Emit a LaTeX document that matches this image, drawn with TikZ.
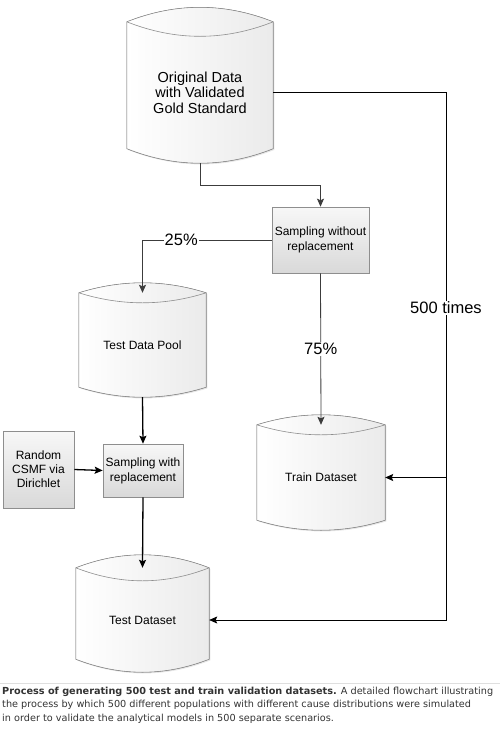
\documentclass[tikz,border=0pt]{standalone}
\usepackage{fontspec}
\setmainfont{Liberation Sans}
\newfontfamily\capfont{DejaVu Sans}
\usetikzlibrary{arrows.meta, shadows, calc}
\pgfdeclarelayer{bg}
\pgfsetlayers{bg,main}
\definecolor{edgegray}{HTML}{8E8E8E}
\definecolor{linegray}{HTML}{3C3C3C}
\definecolor{captext}{HTML}{333333}

% outline of a drum drawn round node #1, bulge #2
\newcommand{\drumoutline}[2]{%
  \filldraw [drumline] (#1.north west)
    .. controls ($(#1.north west)!1/3!(#1.north east)+(0,{-4/3*#2})$)
            and ($(#1.north west)!2/3!(#1.north east)+(0,{-4/3*#2})$) .. (#1.north east)
    -- ($(#1.south east)+(0,-#2)$)
    .. controls ($(#1.south east)!1/3!(#1.south west)+(0,{#2/3})$)
            and ($(#1.south east)!2/3!(#1.south west)+(0,{#2/3})$) .. ($(#1.south west)+(0,-#2)$)
    -- cycle;
  \draw [draw=edgegray, line width=0.6pt] (#1.north west)
    .. controls ($(#1.north west)!1/3!(#1.north east)+(0,{4/3*#2})$)
            and ($(#1.north west)!2/3!(#1.north east)+(0,{4/3*#2})$) .. (#1.north east);
}

\begin{document}
\begin{tikzpicture}[
    x=1pt, y=-1pt,
    drum/.style     = {inner sep=0pt, align=center, font=\fontsize{12}{15}\selectfont},
    drumline/.style = {draw=edgegray, line width=0.6pt, left color=white, right color=gray!16,
                       drop shadow={shadow xshift=1.2pt, shadow yshift=-1.2pt, opacity=0.2}},
    box/.style      = {draw=edgegray, line width=0.6pt, top color=gray!6, bottom color=gray!30,
                       drop shadow={shadow xshift=1.2pt, shadow yshift=-1.2pt, opacity=0.2},
                       inner sep=0pt, align=center, font=\fontsize{12}{15}\selectfont},
    flow/.style     = {draw=linegray, line width=0.8pt, -{Stealth[length=8pt, width=7pt, inset=1.5pt]}},
    heavy/.style    = {draw=black, line width=1.3pt, -{Stealth[length=8pt, width=7pt, inset=1.5pt]}},
    pct/.style      = {fill=white, inner sep=1pt, font=\fontsize{16.5}{18}\selectfont}
]
\useasboundingbox (0,0) rectangle (500,729);

% Drums
\node (orig)  [drum, minimum width=146pt, minimum height=141pt, font=\fontsize{14.5}{15.5}\selectfont]
      at (200, 92.5) {Original Data\\with Validated\\Gold Standard};
\node (pool)  [drum, minimum width=127pt, minimum height=104pt] at (142.5, 345) {Test Data Pool};
\node (train) [drum, minimum width=128pt, minimum height=105pt] at (321, 477.5) {Train Dataset};
\node (test)  [drum, minimum width=133pt, minimum height=104pt] at (142.5, 620) {Test Dataset};

\begin{pgfonlayer}{bg}
\foreach \n/\b in {orig/14.5, pool/10, train/10, test/13}
  {\drumoutline{\n}{\b}}
\end{pgfonlayer}

% Boxes
\node (samp1) [box, minimum width=97pt, minimum height=66pt] at (320.5, 240) {Sampling without\\replacement};
\node (samp2) [box, minimum width=80pt, minimum height=53pt] at (143, 470.5) {Sampling with\\replacement};
\node (csmf)  [box, minimum width=71pt, minimum height=77pt, font=\fontsize{12}{14}\selectfont]
      at (38.5, 469.5) {Random\\CSMF via\\Dirichlet};

% Arrows
\draw [flow] (orig.south) -- ++(0,22) -| (samp1.north);
\draw [flow] (samp1.west) -| node[pct, pos=0.35] {25\%} (pool.north);
\draw [flow] (samp1.south) -- node[pct] {75\%} (train.north);
\draw [heavy] (pool.south) -- (samp2.north);
\draw [heavy] (csmf.east) -- (samp2.west);
\draw [heavy] (samp2.south) -- (test.north);

% 500 times loop
\coordinate (rail) at (446, 0);
\draw [flow, draw=black] (orig.east) -| node[pct, pos=0.704] {500 times} (rail |- test.east) -- (test.east);
\draw [flow, draw=black] (rail |- train.east) -- (train.east);

% Caption
\draw [gray!25, line width=0.6pt] (0,683) -- (500,683);
\node (caption) [anchor=north west, align=left, inner sep=0pt, text=captext,
      font=\capfont\fontsize{9.7}{13.5}\selectfont] at (2,686.5)
  {\textbf{Process of generating 500 test and train validation datasets.} A detailed flowchart illustrating\\
   the process by which 500 different populations with different cause distributions were simulated\\
   in order to validate the analytical models in 500 separate scenarios.};

\end{tikzpicture}
\end{document}
